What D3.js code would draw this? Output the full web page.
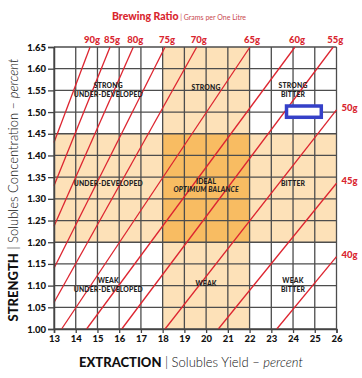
<!DOCTYPE html>
<html lang="en">
<head>
<meta charset="utf-8">
<title>Brewing Control Chart</title>
<style>
  body { margin: 0; background: #fff; }
  text { font-family: Lato, "Open Sans", sans-serif; }
  .tick text { font-size: 9.5px; font-weight: 900; fill: #111; }
  .zone { font-size: 6.8px; font-weight: 900; fill: #222; text-anchor: middle; letter-spacing: 0.2px; }
  .ratio { font-size: 9.5px; font-weight: 900; fill: #d9262f; }
</style>
</head>
<body>
<div id="chart"></div>
<script src="https://cdn.jsdelivr.net/npm/d3@7"></script>
<script>
var width = 362, height = 378;

// axis ticks
var extractionTicks = [13, 14, 15, 16, 17, 18, 19, 20, 21, 22, 23, 24, 25, 26];
var strengthTicks = [1.00, 1.05, 1.10, 1.15, 1.20, 1.25, 1.30, 1.35, 1.40, 1.45, 1.50, 1.55, 1.60, 1.65];

// ideal bands
var idealExtraction = [18, 22];
var idealStrength = [1.20, 1.45];

// brewing ratio lines (g per litre), each as start [EY, TDS] and end [EY, TDS]
var ratioNames = ["90g", "85g", "80g", "75g", "70g", "65g", "60g", "55g", "50g", "45g", "40g"];
var ratioStart = [[13, 1.430], [13, 1.330], [13, 1.237], [13, 1.140], [13, 1.061],
                  [13.35, 1.00], [14.50, 1.00], [16.12, 1.00], [18.11, 1.00], [20.56, 1.00], [23.25, 1.00]];
var ratioEnd = [[14.66, 1.65], [15.58, 1.65], [16.65, 1.65], [18.11, 1.65], [19.57, 1.65],
                [22.02, 1.65], [24.09, 1.65], [25.85, 1.65], [26, 1.505], [26, 1.336], [26, 1.167]];

// zone labels: [EY, TDS, line1, line2]
var zoneLabels = [
  [15.5, 1.555, "STRONG", "UNDER-DEVELOPED"],
  [20, 1.55, "STRONG", ""],
  [24, 1.555, "STRONG", "BITTER"],
  [15.5, 1.33, "UNDER-DEVELOPED", ""],
  [24, 1.33, "BITTER", ""],
  [15.5, 1.105, "WEAK", "UNDER-DEVELOPED"],
  [20, 1.10, "WEAK", ""],
  [24, 1.105, "WEAK", "BITTER"]
];

// highlighted box [EY0, EY1, TDS0, TDS1]
var highlight = [23.7, 25.3, 1.488, 1.514];

var svg = d3.select("#chart").append("svg")
    .attr("width", width).attr("height", height);

var x = d3.scaleLinear().domain([13, 26]).range([54, 336.5]);
var y = d3.scaleLinear().domain([1.00, 1.65]).range([329, 47]);

var light = "#fde1b8", dark = "#f8bc62", red = "#dd2530";

// shaded bands
svg.append("rect")
    .attr("x", x(13)).attr("width", x(26) - x(13))
    .attr("y", y(idealStrength[1])).attr("height", y(idealStrength[0]) - y(idealStrength[1]))
    .attr("fill", light);
svg.append("rect")
    .attr("x", x(idealExtraction[0])).attr("width", x(idealExtraction[1]) - x(idealExtraction[0]))
    .attr("y", y(1.65)).attr("height", y(1.00) - y(1.65))
    .attr("fill", light);
svg.append("rect")
    .attr("x", x(idealExtraction[0])).attr("width", x(idealExtraction[1]) - x(idealExtraction[0]))
    .attr("y", y(idealStrength[1])).attr("height", y(idealStrength[0]) - y(idealStrength[1]))
    .attr("fill", dark);

// grid
svg.append("g").selectAll("line")
    .data(extractionTicks).enter().append("line")
    .attr("x1", function(d) { return x(d); }).attr("x2", function(d) { return x(d); })
    .attr("y1", y(1.65)).attr("y2", y(1.00))
    .attr("stroke", "#4d4d4d").attr("stroke-width", 1.3);
svg.append("g").selectAll("line")
    .data(strengthTicks).enter().append("line")
    .attr("y1", function(d) { return y(d); }).attr("y2", function(d) { return y(d); })
    .attr("x1", x(13)).attr("x2", x(26))
    .attr("stroke", "#4d4d4d").attr("stroke-width", 1.3);

// ratio lines
svg.append("g").selectAll("line")
    .data(ratioNames).enter().append("line")
    .attr("x1", function(d, i) { return x(ratioStart[i][0]); })
    .attr("y1", function(d, i) { return y(ratioStart[i][1]); })
    .attr("x2", function(d, i) { return x(ratioEnd[i][0]); })
    .attr("y2", function(d, i) { return y(ratioEnd[i][1]); })
    .attr("stroke", red).attr("stroke-width", 1.3);

svg.append("g").selectAll("text")
    .data(ratioNames).enter().append("text")
    .attr("class", "ratio")
    .attr("x", function(d, i) { return ratioEnd[i][1] >= 1.65 ? x(ratioEnd[i][0]) + 2 : x(26) + 5; })
    .attr("y", function(d, i) { return ratioEnd[i][1] >= 1.65 ? y(1.65) - 4 : y(ratioEnd[i][1]) + 1; })
    .attr("text-anchor", function(d, i) { return ratioEnd[i][1] >= 1.65 ? "middle" : "start"; })
    .text(function(d) { return d; });

// axes
var yAxis = svg.append("g")
    .attr("transform", "translate(" + x(13) + ",0)")
    .call(d3.axisLeft(y).tickValues(strengthTicks).tickFormat(d3.format(".2f")).tickSize(6).tickPadding(2));
var xAxis = svg.append("g")
    .attr("transform", "translate(0," + y(1.00) + ")")
    .call(d3.axisBottom(x).tickValues(extractionTicks).tickFormat(d3.format("d")).tickSize(4).tickPadding(2));
[yAxis, xAxis].forEach(function(a) {
  a.select(".domain").attr("stroke", "#444").attr("stroke-width", 1.5);
  a.selectAll(".tick line").attr("stroke", "#444").attr("stroke-width", 1.3);
});

// zone labels
var zl = svg.append("g").selectAll("text")
    .data(zoneLabels).enter().append("text")
    .attr("class", "zone")
    .attr("x", function(d) { return x(d[0]); })
    .attr("y", function(d) { return y(d[1]); });
zl.append("tspan").text(function(d) { return d[2]; });
zl.append("tspan").attr("x", function(d) { return x(d[0]); }).attr("dy", 8.5)
    .text(function(d) { return d[3]; });

var ideal = svg.append("text").attr("class", "zone")
    .attr("x", x(20)).attr("y", y(1.335));
ideal.append("tspan").text("IDEAL");
ideal.append("tspan").attr("x", x(20)).attr("dy", 8.5).attr("font-style", "italic").text("OPTIMUM BALANCE");

// highlight box
svg.append("rect")
    .attr("x", x(highlight[0])).attr("width", x(highlight[1]) - x(highlight[0]))
    .attr("y", y(highlight[3])).attr("height", y(highlight[2]) - y(highlight[3]))
    .attr("fill", "#fff").attr("stroke", "#3540c8").attr("stroke-width", 3.5);

// title
var title = svg.append("text").attr("x", 179).attr("y", 20).attr("text-anchor", "middle").attr("fill", "#d9262f");
title.append("tspan").attr("font-size", 10.5).attr("font-weight", 900).text("Brewing Ratio");
title.append("tspan").attr("font-size", 7).attr("fill", "#c94a50").text("  |  Grams per One Litre");

// axis titles
var xt = svg.append("text").attr("x", 191).attr("y", 367).attr("text-anchor", "middle")
    .attr("font-size", 13).attr("fill", "#111");
xt.append("tspan").attr("font-weight", 900).text("EXTRACTION");
xt.append("tspan").attr("font-weight", 300).text("  |  Solubles Yield – ");
xt.append("tspan").attr("font-weight", 300).attr("font-style", "italic").text("percent");

var yt = svg.append("text").attr("transform", "translate(18,190) rotate(-90)").attr("text-anchor", "middle")
    .attr("font-size", 13).attr("fill", "#111");
yt.append("tspan").attr("font-weight", 900).text("STRENGTH");
yt.append("tspan").attr("font-weight", 300).text("  |  Solubles Concentration – ");
yt.append("tspan").attr("font-weight", 300).attr("font-style", "italic").text("percent");
</script>
</body>
</html>
